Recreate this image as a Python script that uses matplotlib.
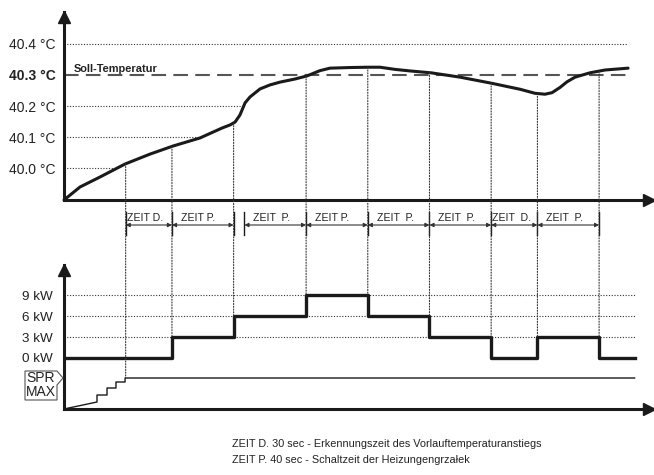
import numpy as np
import matplotlib.pyplot as plt
from matplotlib import transforms
from matplotlib.patches import Polygon, ConnectionPatch

plt.rcParams['font.family'] = ['Liberation Sans', 'DejaVu Sans']

# --- data -------------------------------------------------------------
# flow temperature over time (seconds)
temp_t = [0, 10.4, 23.3, 39.6, 55.8, 70.7, 88.2, 102.5, 107.7, 110.9, 114.1,
          117.4, 120.6, 127.1, 133.6, 140.1, 149.8, 157.6, 166.0, 172.5, 185.5,
          197.1, 204.9, 214.7, 224.4, 238.0, 256.8, 277.6, 295.7, 305.4, 311.9,
          316.5, 321.7, 326.2, 331.4, 341.1, 350.8, 365.8]
temp_v = [39.897, 39.939, 39.971, 40.013, 40.045, 40.071, 40.097, 40.129,
          40.139, 40.148, 40.171, 40.210, 40.229, 40.255, 40.268, 40.277,
          40.287, 40.297, 40.314, 40.322, 40.324, 40.325, 40.325, 40.318,
          40.313, 40.307, 40.293, 40.273, 40.254, 40.241, 40.238, 40.243,
          40.260, 40.278, 40.293, 40.307, 40.316, 40.322]
setpoint = 40.3
temp_ticks = [40.0, 40.1, 40.2, 40.3, 40.4]
temp_labels = ['40.0 °C', '40.1 °C', '40.2 °C', '40.3 °C', '40.4 °C']

# heater power steps (kW)
step_t = [0, 70, 110, 157, 197, 237, 277, 307, 347, 370]
step_kw = [0, 3, 6, 9, 6, 3, 0, 3, 0, 0]
kw_ticks = [0, 3, 6, 9]
kw_labels = ['0 kW', '3 kW', '6 kW', '9 kW']

# SPR MAX ramp
ramp_t = [0, 21.4, 21.4, 27.9, 27.9, 33.7, 33.7, 39.6, 39.6, 370]
ramp_kw = [-7.29, -6.29, -5.29, -5.29, -4.29, -4.29, -3.43, -3.43, -2.86, -2.86]

# timing segments
seg_start = [40, 70, 117, 157, 197, 237, 277, 307]
seg_end = [70, 110, 157, 197, 237, 277, 307, 347]
seg_label = ['ZEIT D.', 'ZEIT P.', 'ZEIT  P.', 'ZEIT P.', 'ZEIT  P.',
             'ZEIT  P.', 'ZEIT  D.', 'ZEIT  P.']
switch_t = [40, 70, 110, 157, 197, 237, 277, 307, 347]

notes = ['ZEIT D. 30 sec - Erkennungszeit des Vorlauftemperaturanstiegs',
         'ZEIT P. 40 sec - Schaltzeit der Heizungengrzałek']

# --- layout -------------------------------------------------------------
W, H = 654, 475
INK = '#1a1a1a'
GRID = '#333333'


def fx(px):
    return px / W


def fy(py):
    return 1 - py / H


fig = plt.figure(figsize=(W / 100, H / 100), dpi=100)
ax_t = fig.add_axes([fx(64), fy(200), fx(654) - fx(64), fy(12) - fy(200)])
ax_p = fig.add_axes([fx(64), fy(409), fx(654) - fx(64), fy(265) - fy(409)])

xmax = 382.6
ax_t.set_xlim(0, xmax)
ax_t.set_ylim(39.897, 40.503)
ax_p.set_xlim(0, xmax)
ax_p.set_ylim(-7.29, 13.29)

for ax in (ax_t, ax_p):
    ax.patch.set_alpha(0)
    for s in ('top', 'right'):
        ax.spines[s].set_visible(False)
    for s in ('left', 'bottom'):
        ax.spines[s].set_linewidth(2.2)
        ax.spines[s].set_color(INK)
    ax.set_xticks([])
    ax.tick_params(axis='y', length=0, labelsize=10, labelcolor='#222222')
    # arrow heads on the axes
    ax.plot(0.992, 0, marker='>', ms=8, color=INK, transform=ax.transAxes,
            clip_on=False)
ax_t.plot(0, 0.975, marker='^', ms=8, color=INK, transform=ax_t.transAxes,
          clip_on=False)
ax_p.plot(0, 0.965, marker='^', ms=8, color=INK, transform=ax_p.transAxes,
          clip_on=False)

# --- temperature panel ---------------------------------------------------
ax_t.set_yticks(temp_ticks, temp_labels)
ax_t.tick_params(axis='y', pad=6)
ax_t.get_yticklabels()[3].set_fontweight('bold')

dots = (0, (1, 1.5))
rise = 17  # monotonic part of the curve
for lvl in temp_ticks:
    if lvl == setpoint:
        continue
    if lvl < setpoint:
        end = np.interp(lvl, temp_v[:rise], temp_t[:rise])
    else:
        end = 365
    ax_t.plot([0, end], [lvl, lvl], ls=dots, lw=0.8, color=GRID)

ax_t.plot([0, 366], [setpoint, setpoint], ls=(0, (7, 3.5)), lw=1.5,
          color='#555555')
ax_t.text(6, 40.311, 'Soll-Temperatur', fontsize=7.9, fontweight='bold',
          color='#222222', va='baseline')
ax_t.plot(temp_t, temp_v, lw=2.2, color=INK, solid_joinstyle='round',
          solid_capstyle='round', clip_on=False)

# --- power panel -----------------------------------------------------------
ax_p.set_yticks(kw_ticks, kw_labels)
ax_p.tick_params(axis='y', pad=8, labelsize=9.7)
for lvl in kw_ticks[1:]:
    ax_p.plot([0, 370], [lvl, lvl], ls=dots, lw=0.8, color=GRID)
ax_p.step(step_t, step_kw, where='post', lw=2.4, color=INK)
ax_p.plot(ramp_t, ramp_kw, lw=1.0, color=INK)

# SPR / MAX tag
tag = Polygon([(fx(25), fy(371)), (fx(57), fy(371)), (fx(63), fy(378)),
               (fx(57), fy(385)), (fx(57), fy(400)), (fx(25), fy(400))],
              closed=True, transform=fig.transFigure, facecolor='white',
              edgecolor='#555555', lw=0.8)
fig.add_artist(tag)
fig.text(fx(41), fy(378), 'SPR', ha='center', va='center', fontsize=10,
         color='#222222')
fig.text(fx(41), fy(392.5), 'MAX', ha='center', va='center', fontsize=10,
         color='#222222')

# --- dotted switch lines from the curve down to the power steps -------------
for t in switch_t:
    top = np.interp(t, temp_t, temp_v)
    i = np.searchsorted(step_t, t, side='right') - 1
    if t == 40:
        bottom = ramp_kw[-1]
    else:
        bottom = max(step_kw[i], step_kw[i - 1])
    con = ConnectionPatch(xyA=(t, top), coordsA=ax_t.transData,
                          xyB=(t, bottom), coordsB=ax_p.transData,
                          ls=dots, lw=0.8, color=GRID)
    fig.add_artist(con)

# --- timing band between the panels -------------------------------------------
band = transforms.blended_transform_factory(ax_t.transData, fig.transFigure)
edges = sorted(set(seg_start + seg_end))
for b in edges:
    ax_t.plot([b, b], [fy(212), fy(235)], lw=1.0, color=INK, transform=band,
              clip_on=False)
for s, e, lab in zip(seg_start, seg_end, seg_label):
    ax_t.annotate('', xy=(s, fy(225)), xycoords=band,
                  xytext=(e, fy(225)), textcoords=band,
                  arrowprops=dict(arrowstyle='<|-|>', color='#333333', lw=0.8,
                                  mutation_scale=6, shrinkA=0, shrinkB=0))
    shift = 1 if 'D' in lab else 9
    ax_t.text(s, fy(221), lab, fontsize=7.6, color='#222222', va='baseline',
              transform=transforms.offset_copy(band, fig=fig, x=shift,
                                               y=0, units='dots'))

# --- footnotes -------------------------------------------------------------------
fig.text(fx(232), fy(447), notes[0], fontsize=7.8, color='#222222',
         va='baseline')
fig.text(fx(232), fy(463), notes[1], fontsize=7.8, color='#222222',
         va='baseline')

fig.savefig('out.png', dpi=100)
